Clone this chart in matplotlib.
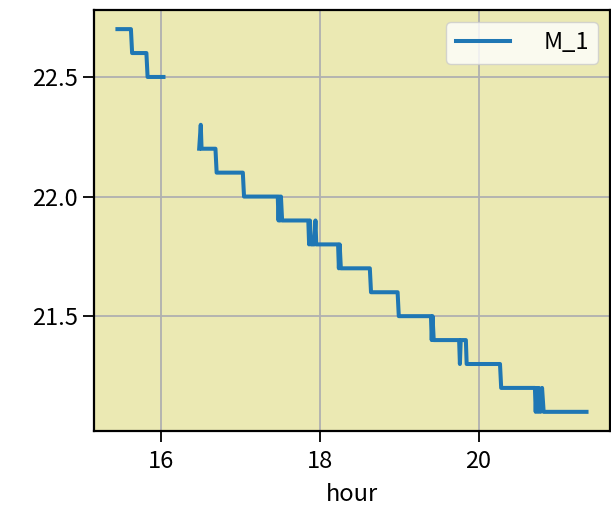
import numpy as np
import matplotlib
matplotlib.use("Agg")
import matplotlib.pyplot as plt

plt.rcParams['font.family'] = ['Noto Sans CJK JP', 'DejaVu Sans']

# Data: hour vs temperature (M_1); NaN marks a gap in the record
hours = [15.45, 15.62, 15.635, 15.815, 15.83, 16.03, 16.04,
         16.48, 16.50, 16.51, 16.685, 16.70, 17.03, 17.045,
         17.47, 17.48, 17.49, 17.50, 17.51, 17.525,
         17.855, 17.865, 17.875, 17.89, 17.93, 17.945, 17.955,
         18.23, 18.24, 18.25, 18.265, 18.63, 18.645, 18.98, 18.995,
         19.40, 19.41, 19.42, 19.435, 19.755, 19.765, 19.775, 19.84, 19.85,
         20.27, 20.285, 20.71, 20.72, 20.73, 20.75, 20.76, 20.78, 20.80, 20.82,
         21.36]
temps = [22.7, 22.7, 22.6, 22.6, 22.5, 22.5, np.nan,
         22.2, 22.3, 22.2, 22.2, 22.1, 22.1, 22.0,
         22.0, 21.9, 22.0, 21.9, 22.0, 21.9,
         21.9, 21.8, 21.9, 21.8, 21.8, 21.9, 21.8,
         21.8, 21.7, 21.8, 21.7, 21.7, 21.6, 21.6, 21.5,
         21.5, 21.4, 21.5, 21.4, 21.4, 21.3, 21.4, 21.4, 21.3,
         21.3, 21.2, 21.2, 21.1, 21.2, 21.1, 21.2, 21.1, 21.2, 21.1,
         21.1]
series_name = "M_1"
x_ticks = [16, 18, 20]
y_ticks = [21.5, 22.0, 22.5]

fig = plt.figure(figsize=(6.11, 5.2), dpi=100)
ax = fig.add_axes([0.1538, 0.1712, 0.8445, 0.8096])
ax.set_facecolor('#EBE9B3')
ax.plot(hours, temps, color='#1f77b4', lw=2.9, label=series_name)
ax.grid(True, color='#b0b0b0', lw=1.3)
ax.set_axisbelow(True)
ax.set_xticks(x_ticks)
ax.set_yticks(y_ticks)
ax.set_yticklabels([f"{v:.1f}" for v in y_ticks])
ax.tick_params(labelsize=17, length=8, width=1.3)
ax.tick_params(axis='x', pad=6)
for s in ax.spines.values():
    s.set_linewidth(1.6)
ax.set_xlabel("hour", fontsize=17, labelpad=7)
ax.legend(loc='upper right', fontsize=17, handlelength=2.3, handletextpad=1.4,
          borderpad=0.4, fancybox=True)
fig.savefig("out.png", dpi=100)
